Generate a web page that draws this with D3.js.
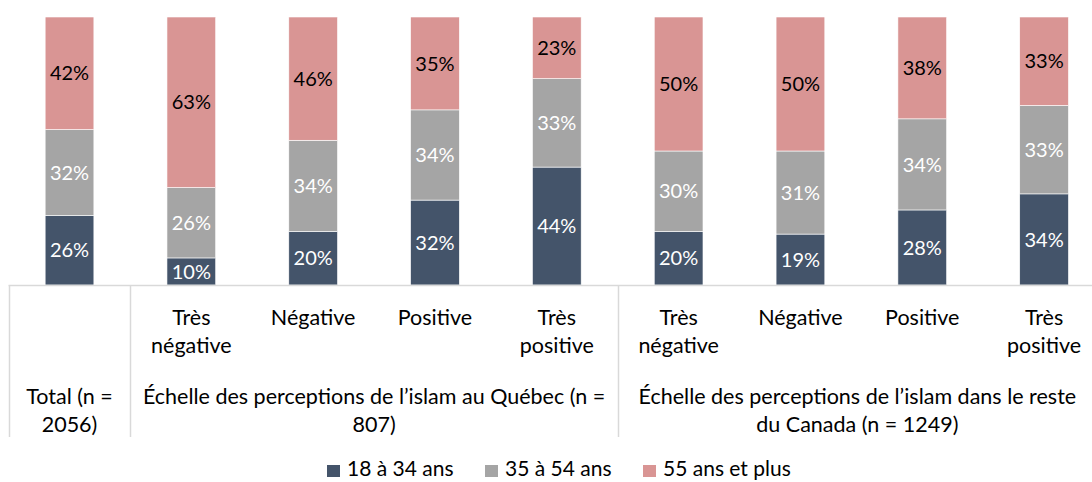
<!DOCTYPE html>
<html>
<head>
<meta charset="utf-8">
<script src="https://cdn.jsdelivr.net/npm/d3@7"></script>
<style>
  body { margin: 0; background: #fff; }
  text { font-family: Lato, "Open Sans", sans-serif; }
</style>
</head>
<body>
<div id="chart"></div>
<script>
// categories (one per bar) and their two-line tick labels
const categories = ["tot", "qc1", "qc2", "qc3", "qc4", "rc1", "rc2", "rc3", "rc4"];
const tickLabels = [
  [""],
  ["Très", "négative"], ["Négative"], ["Positive"], ["Très", "positive"],
  ["Très", "négative"], ["Négative"], ["Positive"], ["Très", "positive"]
];
// groups for the second axis level
const groupNames = [
  ["Total (n =", "2056)"],
  ["Échelle des perceptions de l’islam au Québec (n =", "807)"],
  ["Échelle des perceptions de l’islam dans le reste", "du Canada (n = 1249)"]
];
const groupSpans = [[0, 0], [1, 4], [5, 8]];

// series (%)
const seriesNames = ["18 à 34 ans", "35 à 54 ans", "55 ans et plus"];
const young = [26, 10, 20, 32, 44, 20, 19, 28, 34];
const middle = [32, 26, 34, 34, 33, 30, 31, 34, 33];
const older = [42, 63, 46, 35, 23, 50, 50, 38, 33];
const colors = ["#44546A", "#A5A5A5", "#D99594"];
const textColors = ["#fff", "#fff", "#000"];

const width = 1092, height = 482;
const plotTop = 17, plotBottom = 285;
const labelSize = "21.5px";

const svg = d3.select("#chart").append("svg")
  .attr("width", width)
  .attr("height", height);

const x = d3.scaleBand()
  .domain(categories)
  .range([8.6, 1105])
  .paddingInner(0.6)
  .paddingOuter(0.3);

const y = d3.scaleLinear().domain([0, 1]).range([plotBottom, plotTop]);

// build normalised stack (100% stacked)
const rows = categories.map((c, i) => {
  const tot = young[i] + middle[i] + older[i];
  return { cat: c, vals: [young[i], middle[i], older[i]], s0: young[i] / tot, s1: middle[i] / tot, s2: older[i] / tot };
});
const stack = d3.stack().keys(["s0", "s1", "s2"])(rows);

stack.forEach((layer, k) => {
  const g = svg.append("g");
  g.selectAll("rect")
    .data(layer)
    .enter()
    .append("rect")
    .attr("x", d => x(d.data.cat))
    .attr("y", d => y(d[1]))
    .attr("width", x.bandwidth())
    .attr("height", d => y(d[0]) - y(d[1]))
    .attr("fill", colors[k])
    .attr("stroke", "#fff")
    .attr("stroke-width", 0.6);

  g.selectAll("text")
    .data(layer)
    .enter()
    .append("text")
    .attr("x", d => x(d.data.cat) + x.bandwidth() / 2)
    .attr("y", d => (y(d[0]) + y(d[1])) / 2)
    .attr("dy", "0.36em")
    .attr("text-anchor", "middle")
    .style("font-size", "20px")
    .style("fill", textColors[k])
    .text(d => d.data.vals[k] + "%");
});

// axis line and separators
const step = x.step();
const edge = i => x(categories[i]) - step * x.paddingOuter();
const axisColor = "#D9D9D9";
svg.append("line")
  .attr("x1", edge(0)).attr("x2", width)
  .attr("y1", plotBottom + 0.5).attr("y2", plotBottom + 0.5)
  .attr("stroke", axisColor).attr("stroke-width", 1.5);

const seps = [0, 1, 5];
svg.selectAll(".sep")
  .data(seps)
  .enter()
  .append("line")
  .attr("class", "sep")
  .attr("x1", d => Math.round(edge(d)) + 0.5)
  .attr("x2", d => Math.round(edge(d)) + 0.5)
  .attr("y1", plotBottom)
  .attr("y2", 437)
  .attr("stroke", axisColor)
  .attr("stroke-width", 1.5);

// first level tick labels
tickLabels.forEach((lines, i) => {
  const t = svg.append("text")
    .attr("text-anchor", "middle")
    .style("font-size", labelSize)
    .style("fill", "#000");
  lines.forEach((ln, j) => {
    t.append("tspan")
      .attr("x", x(categories[i]) + x.bandwidth() / 2)
      .attr("y", 325 + j * 28)
      .text(ln);
  });
});

// group labels
groupNames.forEach((lines, gi) => {
  const [a, b] = groupSpans[gi];
  const cx = (edge(a) + edge(b) + step) / 2 - (gi === 2 ? 4 : 0);
  const t = svg.append("text")
    .attr("text-anchor", "middle")
    .style("font-size", labelSize)
    .style("fill", "#000");
  lines.forEach((ln, j) => {
    t.append("tspan")
      .attr("x", cx)
      .attr("y", 404 + j * 28)
      .text(ln);
  });
});

// legend
const legendX = [327, 485, 643];
const legend = svg.append("g");
seriesNames.forEach((name, k) => {
  legend.append("rect")
    .attr("x", legendX[k]).attr("y", 465)
    .attr("width", 13).attr("height", 12)
    .attr("fill", colors[k]);
  legend.append("text")
    .attr("x", legendX[k] + 20).attr("y", 476)
    .style("font-size", "21px")
    .style("fill", "#000")
    .text(name);
});
</script>
</body>
</html>
